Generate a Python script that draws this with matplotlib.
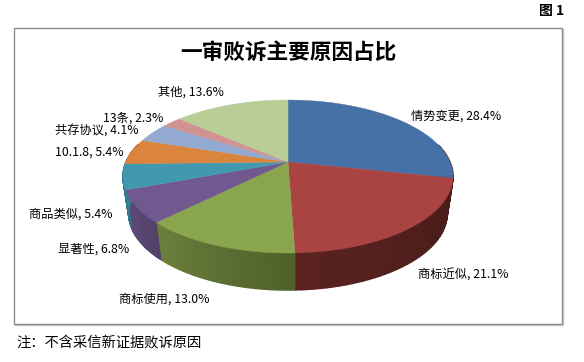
import numpy as np
import matplotlib
matplotlib.use('Agg')
import matplotlib.pyplot as plt
from matplotlib.patches import Rectangle

plt.rcParams['font.family'] = ['Noto Sans CJK SC', 'DejaVu Sans']

# data, clockwise from the top
names = ['情势变更', '商标近似', '商标使用', '显著性', '商品类似', '10.1.8', '共存协议', '13条', '其他']
values = [28.4, 21.1, 13.0, 6.8, 5.4, 5.4, 4.1, 2.3, 13.6]
top_colors = ['#4671a6', '#a94442', '#89a54e', '#71588f', '#4198af', '#db843d', '#93a9cf', '#d19392', '#b9cd96']
side_left = ['#4a1c18', '#5a2220', '#6b7f3c', '#5f4a78', '#35809a', '#a8652e', '#7a8cab', '#a87776', '#96a67a']
side_right = ['#4a1c18', '#461c18', '#4f6029', '#54426a', '#2f7088', '#a8652e', '#7a8cab', '#a87776', '#96a67a']

# where each label starts (left edge, middle height)
label_x = [411, 418, 119, 58, 29, 55, 55, 103, 158]
label_y = [116, 275, 299, 249, 214, 152, 131, 118, 92]

# perspective of the disc
cx, cy = 288, 162
bx, ay, k = 162, 73.75, 0.19
depth = 37
bottom_scale = 0.965


def project(ang, drop=0, scale=1):
    u = np.sin(ang)
    v = np.cos(ang)
    w = 1 + k * v
    return cx + scale * bx * u / w, cy - ay * v / w + drop


fig = plt.figure(figsize=(5.84, 3.62), dpi=100)
ax = fig.add_axes([0, 0, 1, 1])
ax.set_xlim(0, 584)
ax.set_ylim(362, 0)
ax.axis('off')

ax.add_patch(Rectangle((15, 29), 548, 296, fc='none', ec='#d0d0d0', lw=1))
ax.add_patch(Rectangle((14, 28), 548, 296, fc='white', ec='#8c8c8c', lw=1))

total = sum(values)
edges = np.cumsum([0] + values) / total * 2 * np.pi

# side wall, only the front half can be seen
for i in range(len(values)):
    a = np.linspace(edges[i], edges[i + 1], 40)
    for j in range(len(a) - 1):
        if np.cos((a[j] + a[j + 1]) / 2) > 0.25:
            continue
        t = j / (len(a) - 2)
        c0 = np.array(matplotlib.colors.to_rgb(side_right[i]))
        c1 = np.array(matplotlib.colors.to_rgb(side_left[i]))
        col = c0 * (1 - t) + c1 * t
        x0, y0 = project(a[j:j + 2])
        x1, y1 = project(a[j:j + 2], depth, bottom_scale)
        ax.fill(np.r_[x0, x1[::-1]], np.r_[y0, y1[::-1]], color=col, lw=1)

# top of the pie
for i in range(len(values)):
    a = np.linspace(edges[i], edges[i + 1], 80)
    x, y = project(a)
    ax.fill(np.r_[cx, x], np.r_[cy, y], color=top_colors[i], lw=0.3)

for i in range(len(values)):
    ax.text(label_x[i], label_y[i], '%s, %.1f%%' % (names[i], values[i]),
            fontsize=8.8, color='black', ha='left', va='center')

ax.text(288, 52, '一审败诉主要原因占比', fontsize=15.6, fontweight='bold', ha='center', va='center')
ax.text(16, 343, '注：不含采信新证据败诉原因', fontsize=10.3, ha='left', va='center')
ax.text(564, 11, '图 1', fontsize=10, fontweight='bold', ha='right', va='center')

fig.savefig('out.png', dpi=100)
